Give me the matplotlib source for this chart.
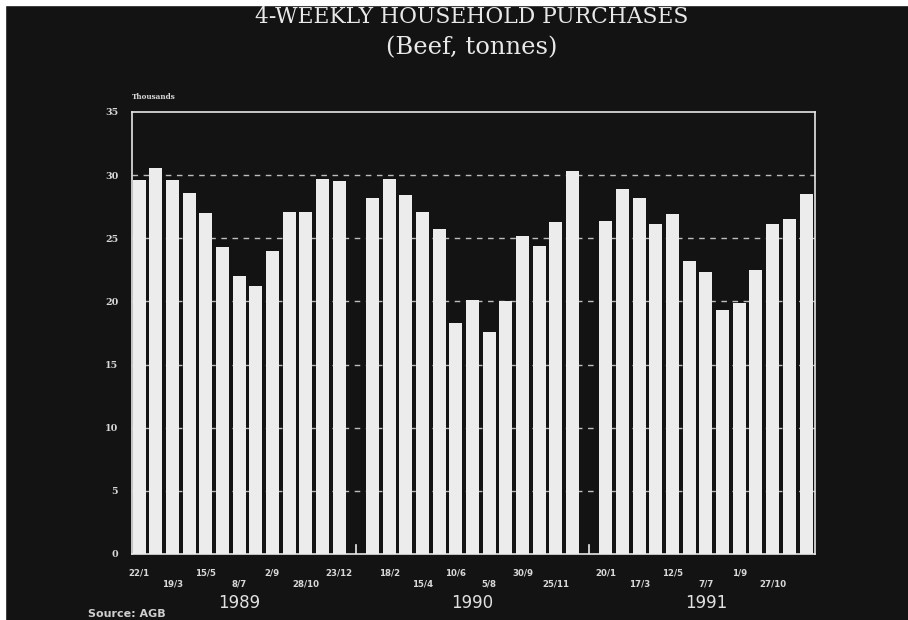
import numpy as np
import matplotlib
matplotlib.use('Agg')
import matplotlib.pyplot as plt
from matplotlib.patches import Rectangle

# 4-weekly purchases, thousand tonnes (13 periods per year)
beef_1989 = [29.6, 30.6, 29.6, 28.6, 27.0, 24.3, 22.0, 21.2, 24.0, 27.1, 27.1, 29.7, 29.5]
beef_1990 = [28.2, 29.7, 28.4, 27.1, 25.7, 18.3, 20.1, 17.6, 20.0, 25.2, 24.4, 26.3, 30.3]
beef_1991 = [26.4, 28.9, 28.2, 26.1, 26.9, 23.2, 22.3, 19.3, 19.9, 22.5, 26.1, 26.5, 28.5]
years = ['1989', '1990', '1991']

# date labels: (period index within year, text)
dates_1989 = [(0, '22/1'), (2, '19/3'), (4, '15/5'), (6, '8/7'), (8, '2/9'), (10, '28/10'), (12, '23/12')]
dates_1990 = [(1, '18/2'), (3, '15/4'), (5, '10/6'), (7, '5/8'), (9, '30/9'), (11, '25/11')]
dates_1991 = [(0, '20/1'), (2, '17/3'), (4, '12/5'), (6, '7/7'), (8, '1/9'), (10, '27/10')]

bg = '#131313'
fg = '#ececec'

fig = plt.figure(figsize=(9.08, 6.2), dpi=100, facecolor=bg)
ax = fig.add_axes([0.1454, 0.1065, 0.7522, 0.7129], facecolor=bg)

series = [beef_1989, beef_1990, beef_1991]
all_dates = [dates_1989, dates_1990, dates_1991]
for k, vals in enumerate(series):
    x0 = k * 14
    xs = x0 + np.arange(len(vals))
    ax.bar(xs, vals, width=0.78, color=fg, edgecolor='none', zorder=3)
    for n, (i, txt) in enumerate(all_dates[k]):
        # labels alternate between an upper and a lower row
        ax.text(x0 + i, -1.5 if n % 2 == 0 else -2.4, txt,
                ha='center', va='center', fontsize=6.2, fontweight='bold',
                color='#d8d8d8', family='DejaVu Sans')
    ax.text(x0 + 6, -3.85, years[k], ha='center', va='center', fontsize=12,
            color='#e0e0e0', family='DejaVu Sans')

# small ticks at the gaps between years
for g in [13, 27]:
    ax.plot([g, g], [0, 0.7], color=fg, lw=1.2, zorder=4)

for yv in range(5, 35, 5):
    ax.axhline(yv, color='#bdbdbd', lw=1, dashes=(4, 4), zorder=1)

ax.set_xlim(-0.42, 40.54)
ax.set_ylim(0, 35)
ax.set_yticks(range(0, 40, 5))
ax.set_yticklabels([str(v) for v in range(0, 40, 5)], fontsize=6.8,
                   fontweight='bold', family='DejaVu Serif', color='#d8d8d8')
ax.tick_params(axis='y', length=0, pad=10)
ax.set_xticks([])
for s in ax.spines.values():
    s.set_color('#e6e6e6')
    s.set_linewidth(1.2)

ax.text(0.0, 1.034, 'Thousands', transform=ax.transAxes, fontsize=5.2,
        fontweight='bold', family='DejaVu Serif', color='#d8d8d8', va='center')

fig.text(0.520, 0.972, '4-WEEKLY HOUSEHOLD PURCHASES', ha='center', va='center',
         fontsize=15.7, family='DejaVu Serif', color='#e8e8e8')
fig.text(0.520, 0.923, '(Beef, tonnes)', ha='center', va='center',
         fontsize=17.5, family='DejaVu Serif', color='#e8e8e8')
fig.text(0.097, 0.001, 'Source: AGB', ha='left', va='bottom', fontsize=8,
         fontweight='bold', family='DejaVu Sans', color='#cfcfcf')

# scan border
fig.patches.append(Rectangle((0, 0), 0.006, 1, transform=fig.transFigure,
                             color='white', zorder=10))
fig.patches.append(Rectangle((0, 0.992), 1, 0.008, transform=fig.transFigure,
                             color='white', zorder=10))

fig.savefig('out.png', dpi=100, facecolor=bg)
